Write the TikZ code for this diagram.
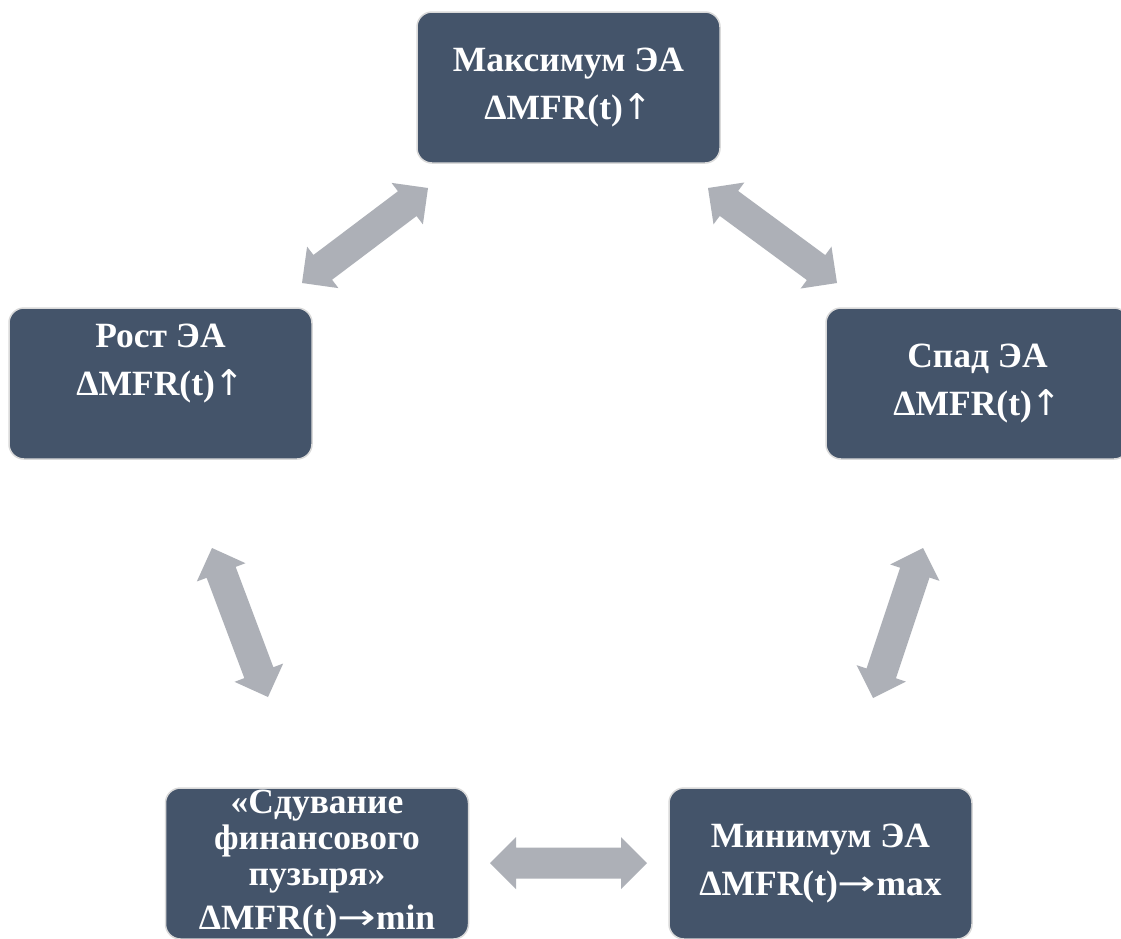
\documentclass[tikz,border=0pt]{standalone}
\usepackage{fontspec}
\usepackage{graphicx}
\setmainfont{Liberation Serif}
\newfontfamily\arrfont{DejaVu Sans}
\usetikzlibrary{calc}
\definecolor{boxfill}{HTML}{44546A}
\definecolor{boxline}{HTML}{D9D9D9}
\definecolor{arrowfill}{HTML}{ADB0B7}
\newcommand\uparr{{\arrfont\mdseries ↑}}
\newcommand\rtarr{{\arrfont\mdseries\scalebox{1.3}[1]{→}}}
\tikzset{
  stage/.style={rectangle, rounded corners=15pt, fill=boxfill, draw=boxline,
    line width=1.5pt, minimum width=303pt, minimum height=151pt, inner sep=0pt,
    text=white, font=\fontsize{35.5}{48}\selectfont\bfseries, align=center},
  blockarrow/.style={fill=arrowfill}
}
\newcommand\dblblock[2]{%
  \path[blockarrow] let \p1=(#1), \p2=(#2),
    \n1={atan2(\y2-\y1,\x2-\x1)}, \n2={veclen(\x2-\x1,\y2-\y1)-26} in
    (\p1)
    -- ($(\p1)+(\n1:26pt)+(\n1+90:26pt)$)
    -- ($(\p1)+(\n1:26pt)+(\n1+90:15.5pt)$)
    -- ($(\p1)+(\n1:\n2)+(\n1+90:15.5pt)$)
    -- ($(\p1)+(\n1:\n2)+(\n1+90:26pt)$)
    -- (\p2)
    -- ($(\p1)+(\n1:\n2)+(\n1-90:26pt)$)
    -- ($(\p1)+(\n1:\n2)+(\n1-90:15.5pt)$)
    -- ($(\p1)+(\n1:26pt)+(\n1-90:15.5pt)$)
    -- ($(\p1)+(\n1:26pt)+(\n1-90:26pt)$)
    -- cycle;}
\begin{document}
\begin{tikzpicture}[x=1pt,y=-1pt]
\useasboundingbox (0,0) rectangle (1121,938);
\fill[white] (0,0) rectangle (1121,938);
\clip (0,0) rectangle (1121,938);

\node[stage] (max)  at (568.5,87.5)  {Максимум ЭА\\ΔMFR(t)\uparr};
\node[stage] (rost) at (160.5,383.5) {Рост ЭА\\ΔMFR(t)\uparr\\\mbox{}};
\node[stage] (spad) at (977.5,383.5) {Спад ЭА\\ΔMFR(t)\uparr};
\node[stage, font=\fontsize{35.5}{36}\selectfont\bfseries] (sduv) at (317,863.5)
  {«Сдувание\\финансового\\пузыря»\\[8pt]ΔMFR(t)\rtarr min};
\node[stage] (min)  at (820.5,863.5) {Минимум ЭА\\ΔMFR(t)\rtarr max};

\coordinate (a1s) at (302,283); \coordinate (a1e) at (428,188);
\coordinate (a2s) at (708,188); \coordinate (a2e) at (837,283);
\coordinate (a3s) at (212,548); \coordinate (a3e) at (268,697);
\coordinate (a4s) at (923,548); \coordinate (a4e) at (873,698);
\coordinate (a5s) at (490,863); \coordinate (a5e) at (647,863);

\dblblock{a1s}{a1e}
\dblblock{a2s}{a2e}
\dblblock{a3s}{a3e}
\dblblock{a4s}{a4e}
\dblblock{a5s}{a5e}
\end{tikzpicture}
\end{document}
